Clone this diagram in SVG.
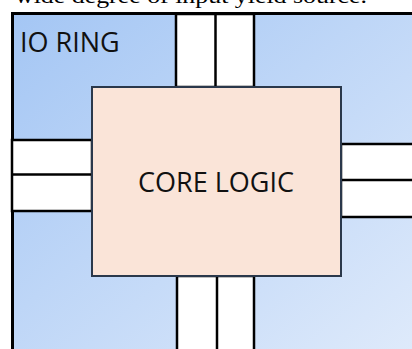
<svg xmlns="http://www.w3.org/2000/svg" width="412" height="349" viewBox="0 0 412 349">
  <defs>
    <linearGradient id="ringGrad" x1="0" y1="0" x2="1" y2="1">
      <stop offset="0" stop-color="#a4c6f4"/>
      <stop offset="1" stop-color="#e0ebfb"/>
    </linearGradient>
    <style>
      .chan { fill: #ffffff; stroke: #000000; stroke-width: 2.5; }
      .div { stroke: #000000; stroke-width: 2.5; }
      .label { font-family: "Open Sans", "DejaVu Sans", sans-serif; font-size: 27px; fill: #111111; }
      .caption { font-family: "Liberation Serif", serif; font-size: 22px; fill: #000000; }
    </style>
  </defs>
  <rect x="0" y="0" width="412" height="349" fill="#ffffff"/>
  <g id="caption">
    <text class="caption" x="15" y="3" textLength="352" lengthAdjust="spacingAndGlyphs">wide degree of input yield source.</text>
  </g>
  <g id="io-ring">
    <rect x="12.5" y="13.5" width="410" height="350" fill="url(#ringGrad)" stroke="#000000" stroke-width="3"/>
    <text class="label" x="20" y="52">IO RING</text>
  </g>
  <g id="channel-top">
    <rect class="chan" x="176" y="14" width="78" height="73"/>
    <line class="div" x1="215.5" y1="14" x2="215.5" y2="87"/>
  </g>
  <g id="channel-left">
    <rect class="chan" x="12" y="140" width="80" height="71"/>
    <line class="div" x1="12" y1="174.5" x2="92" y2="174.5"/>
  </g>
  <g id="channel-right">
    <rect class="chan" x="341" y="144" width="80" height="73"/>
    <line class="div" x1="341" y1="180" x2="412" y2="180"/>
  </g>
  <g id="channel-bottom">
    <rect class="chan" x="177" y="276" width="77" height="80"/>
    <line class="div" x1="217" y1="276" x2="217" y2="349"/>
  </g>
  <g id="core-logic">
    <rect x="92" y="87" width="249" height="189" fill="#fae4d8" stroke="#2a384b" stroke-width="2"/>
    <text class="label" x="216" y="192" text-anchor="middle">CORE LOGIC</text>
  </g>
</svg>
